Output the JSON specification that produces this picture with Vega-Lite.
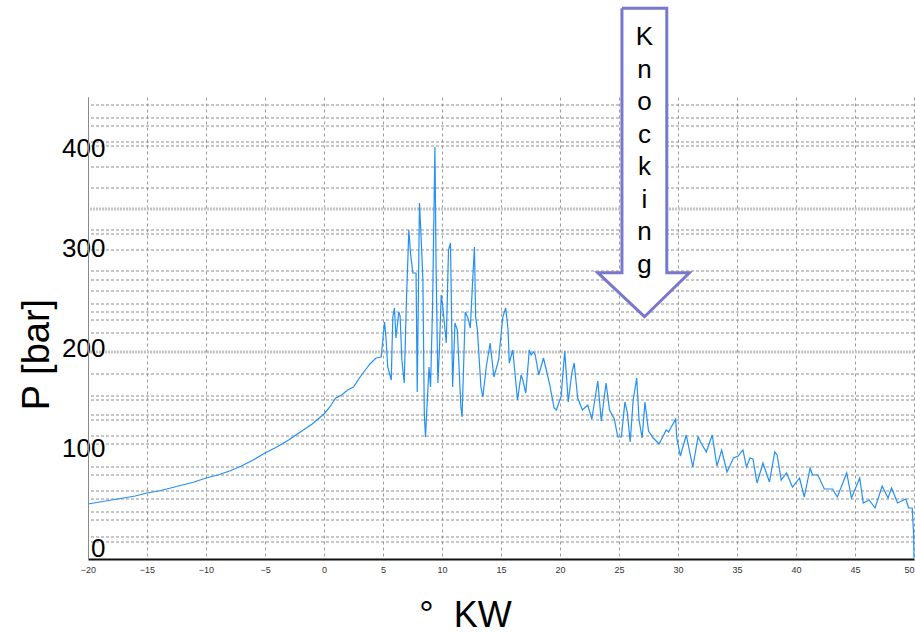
{
  "$schema": "https://vega.github.io/schema/vega-lite/v6.json",
  "width": 826,
  "height": 462,
  "autosize": {"type": "none"},
  "padding": {"left": 88, "top": 97, "right": 1, "bottom": 75},
  "background": "white",
  "config": {"view": {"stroke": null}, "font": "Liberation Sans"},
  "datasets": {
    "curve": [
      {"x": -20, "y": 44}, {"x": -19, "y": 46}, {"x": -18, "y": 48}, {"x": -17, "y": 50}, {"x": -16, "y": 52},
      {"x": -15, "y": 55}, {"x": -14, "y": 57}, {"x": -13, "y": 60}, {"x": -12, "y": 63}, {"x": -11, "y": 66},
      {"x": -10, "y": 70}, {"x": -9, "y": 73}, {"x": -8, "y": 77}, {"x": -7, "y": 82}, {"x": -6, "y": 88},
      {"x": -5, "y": 95}, {"x": -4, "y": 101}, {"x": -3, "y": 108}, {"x": -2, "y": 116}, {"x": -1, "y": 124},
      {"x": 0, "y": 134}, {"x": 0.5, "y": 141}, {"x": 1, "y": 150}, {"x": 1.5, "y": 153}, {"x": 2, "y": 158},
      {"x": 2.5, "y": 161}, {"x": 3, "y": 170}, {"x": 3.5, "y": 178}, {"x": 3.9, "y": 184}, {"x": 4.4, "y": 190},
      {"x": 4.85, "y": 191}, {"x": 5.13, "y": 226}, {"x": 5.27, "y": 208}, {"x": 5.4, "y": 181}, {"x": 5.7, "y": 168},
      {"x": 5.83, "y": 231}, {"x": 5.97, "y": 240}, {"x": 6.1, "y": 210}, {"x": 6.34, "y": 236}, {"x": 6.45, "y": 232},
      {"x": 6.6, "y": 188}, {"x": 6.8, "y": 165}, {"x": 6.97, "y": 241}, {"x": 7.19, "y": 318}, {"x": 7.33, "y": 295},
      {"x": 7.53, "y": 275}, {"x": 7.8, "y": 275}, {"x": 7.9, "y": 156}, {"x": 8.09, "y": 345}, {"x": 8.24, "y": 308},
      {"x": 8.38, "y": 268}, {"x": 8.5, "y": 135}, {"x": 8.6, "y": 111}, {"x": 8.9, "y": 181}, {"x": 9.03, "y": 161},
      {"x": 9.2, "y": 241}, {"x": 9.4, "y": 401}, {"x": 9.5, "y": 281}, {"x": 9.65, "y": 165}, {"x": 9.79, "y": 201},
      {"x": 9.93, "y": 253}, {"x": 10.07, "y": 241}, {"x": 10.36, "y": 205}, {"x": 10.55, "y": 298}, {"x": 10.72, "y": 305},
      {"x": 10.9, "y": 161}, {"x": 11.1, "y": 225}, {"x": 11.3, "y": 218}, {"x": 11.6, "y": 141}, {"x": 11.7, "y": 131},
      {"x": 11.97, "y": 236}, {"x": 12.2, "y": 230}, {"x": 12.4, "y": 220}, {"x": 12.6, "y": 268}, {"x": 12.75, "y": 301},
      {"x": 12.85, "y": 231}, {"x": 13.0, "y": 218}, {"x": 13.3, "y": 161}, {"x": 13.46, "y": 151}, {"x": 13.75, "y": 181},
      {"x": 14.08, "y": 205}, {"x": 14.4, "y": 171}, {"x": 14.8, "y": 188}, {"x": 15.15, "y": 231}, {"x": 15.4, "y": 240},
      {"x": 15.6, "y": 218}, {"x": 15.7, "y": 185}, {"x": 16.0, "y": 198}, {"x": 16.4, "y": 148}, {"x": 16.7, "y": 173},
      {"x": 16.85, "y": 168}, {"x": 17.1, "y": 155}, {"x": 17.4, "y": 198}, {"x": 17.55, "y": 193}, {"x": 17.75, "y": 196},
      {"x": 17.9, "y": 193}, {"x": 18.2, "y": 173}, {"x": 18.6, "y": 190}, {"x": 19.1, "y": 165}, {"x": 19.5, "y": 140},
      {"x": 19.7, "y": 138}, {"x": 20.1, "y": 152}, {"x": 20.4, "y": 197}, {"x": 20.7, "y": 146}, {"x": 21.0, "y": 175},
      {"x": 21.2, "y": 185}, {"x": 21.5, "y": 150}, {"x": 21.9, "y": 138}, {"x": 22.35, "y": 143}, {"x": 22.7, "y": 129},
      {"x": 23.2, "y": 167}, {"x": 23.5, "y": 127}, {"x": 23.9, "y": 165}, {"x": 24.2, "y": 138}, {"x": 24.6, "y": 129},
      {"x": 24.9, "y": 111}, {"x": 25.2, "y": 111}, {"x": 25.5, "y": 146}, {"x": 25.7, "y": 136}, {"x": 25.95, "y": 106},
      {"x": 26.2, "y": 148}, {"x": 26.5, "y": 170}, {"x": 26.7, "y": 128}, {"x": 26.96, "y": 110}, {"x": 27.2, "y": 146},
      {"x": 27.5, "y": 117}, {"x": 27.9, "y": 110}, {"x": 28.4, "y": 104}, {"x": 29.0, "y": 118}, {"x": 29.2, "y": 116},
      {"x": 29.8, "y": 129}, {"x": 29.9, "y": 110}, {"x": 30.2, "y": 92}, {"x": 30.7, "y": 113}, {"x": 31.25, "y": 81},
      {"x": 31.7, "y": 111}, {"x": 32.0, "y": 104}, {"x": 32.4, "y": 96}, {"x": 32.9, "y": 113}, {"x": 33.3, "y": 82},
      {"x": 33.7, "y": 98}, {"x": 34.15, "y": 76}, {"x": 34.7, "y": 90}, {"x": 35.1, "y": 92}, {"x": 35.5, "y": 98},
      {"x": 35.8, "y": 81}, {"x": 36.1, "y": 90}, {"x": 36.35, "y": 89}, {"x": 36.7, "y": 65}, {"x": 37.2, "y": 85},
      {"x": 37.75, "y": 66}, {"x": 38.2, "y": 96}, {"x": 38.4, "y": 93}, {"x": 38.75, "y": 68}, {"x": 39.2, "y": 75},
      {"x": 39.7, "y": 61}, {"x": 40.3, "y": 70}, {"x": 40.7, "y": 51}, {"x": 41.2, "y": 80}, {"x": 41.4, "y": 73},
      {"x": 41.85, "y": 73}, {"x": 42.4, "y": 59}, {"x": 43.1, "y": 59}, {"x": 43.5, "y": 51}, {"x": 44.3, "y": 75},
      {"x": 44.7, "y": 50}, {"x": 45.4, "y": 70}, {"x": 45.7, "y": 45}, {"x": 46.2, "y": 48}, {"x": 46.7, "y": 40},
      {"x": 47.3, "y": 62}, {"x": 47.8, "y": 50}, {"x": 48.1, "y": 60}, {"x": 48.6, "y": 45}, {"x": 49.3, "y": 49},
      {"x": 49.55, "y": 40}, {"x": 49.85, "y": 40}, {"x": 49.97, "y": 13}, {"x": 50, "y": -10}
    ],
    "hgrid": [
      {"y": 443}, {"y": 430}, {"y": 422}, {"y": 406}, {"y": 402}, {"y": 381}, {"y": 360}, {"y": 318}, {"y": 314},
      {"y": 298}, {"y": 277}, {"y": 268}, {"y": 257}, {"y": 244}, {"y": 236}, {"y": 228}, {"y": 215}, {"y": 174},
      {"y": 152}, {"y": 148}, {"y": 133}, {"y": 128}, {"y": 112}, {"y": 104}, {"y": 81}, {"y": 73}, {"y": 57},
      {"y": 49}, {"y": 36}, {"y": 28}, {"y": 11}, {"y": 6}
    ],
    "hgrid2": [{"y": 339}, {"y": 196}],
    "body": [{"x": 25.25, "x2": 29.05, "y": 275.3, "y2": 539.7}],
    "head": [
      {"x": 23.2, "y": 275.3, "y2": 275.3},
      {"x": 27.16, "y": 231.3, "y2": 275.3},
      {"x": 30.97, "y": 275.3, "y2": 275.3}
    ],
    "outline": [
      {"i": 0, "x": 25.25, "y": 539.7}, {"i": 1, "x": 29.05, "y": 539.7}, {"i": 2, "x": 29.05, "y": 275.3},
      {"i": 3, "x": 30.97, "y": 275.3}, {"i": 4, "x": 27.16, "y": 231.3}, {"i": 5, "x": 23.2, "y": 275.3},
      {"i": 6, "x": 25.25, "y": 275.3}, {"i": 7, "x": 25.25, "y": 539.7}
    ],
    "label": [{"x": 27.16, "y": 503, "text": "K\nn\no\nc\nk\ni\nn\ng"}]
  },
  "encoding": {
    "x": {
      "field": "x", "type": "quantitative",
      "scale": {"domain": [-20, 50], "nice": false, "zero": false},
      "axis": {
        "values": [-20, -15, -10, -5, 0, 5, 10, 15, 20, 25, 30, 35, 40, 45, 50],
        "title": "°\u00a0\u00a0KW",
        "titleFont": "Liberation Sans", "titleFontSize": 36, "titleFontWeight": "normal", "titleColor": "#000",
        "titleX": 377, "titleY": 67, "titleBaseline": "alphabetic", "titleAlign": "center",
        "labelFont": "Liberation Sans", "labelFontSize": 9, "labelColor": "#333",
        "labelAlign": {"expr": "datum.value == 50 ? 'right' : 'center'"},
        "labelFlush": false, "labelOverlap": false, "labelBound": false, "labelPadding": 6,
        "ticks": false, "grid": true, "gridColor": "#9a9a9a", "gridDash": [3, 3], "gridWidth": 1,
        "domainColor": "#111", "domainWidth": 2
      }
    },
    "y": {
      "field": "y", "type": "quantitative",
      "scale": {"domain": [-11, 451], "nice": false, "zero": false},
      "axis": {
        "values": [0, 100, 200, 300, 400],
        "title": "P [bar]",
        "titleFont": "Liberation Sans", "titleFontSize": 38, "titleFontWeight": "normal", "titleColor": "#000",
        "titleX": -40, "titleY": 257, "titleAngle": -90, "titleBaseline": "alphabetic", "titleAlign": "center",
        "labelFont": "Liberation Sans", "labelFontSize": 26, "labelColor": "#000",
        "labelPadding": -17, "ticks": false, "grid": false, "labelOverlap": false,
        "domainColor": "#8a8a8a", "domainWidth": 1, "zindex": 1
      }
    }
  },
  "layer": [
    {
      "data": {"name": "hgrid"},
      "mark": {"type": "rule", "color": "#8f8f8f", "strokeWidth": 1, "strokeDash": [3, 2]},
      "encoding": {"x": null}
    },
    {
      "data": {"name": "hgrid2"},
      "mark": {"type": "rule", "color": "#c4c4c4", "strokeWidth": 3, "strokeDash": [2, 1]},
      "encoding": {"x": null}
    },
    {
      "data": {"name": "curve"},
      "mark": {"type": "line", "color": "#2390f5", "strokeWidth": 1.2},
      "encoding": {}
    },
    {
      "data": {"name": "body"},
      "mark": {"type": "rect", "fill": "white"},
      "encoding": {
        "x2": {"field": "x2"},
        "y2": {"field": "y2"}
      }
    },
    {
      "data": {"name": "head"},
      "mark": {"type": "area", "fill": "white", "orient": "vertical"},
      "encoding": {
        "y2": {"field": "y2"}
      }
    },
    {
      "data": {"name": "outline"},
      "mark": {"type": "line", "color": "#7878cc", "strokeWidth": 3, "strokeJoin": "miter"},
      "encoding": {
        "order": {"field": "i", "type": "quantitative"}
      }
    },
    {
      "data": {"name": "label"},
      "mark": {"type": "text", "font": "Liberation Sans", "fontSize": 26, "color": "#000", "lineBreak": "\n", "lineHeight": 32.5, "align": "center", "baseline": "alphabetic"},
      "encoding": {
        "text": {"field": "text", "type": "nominal"}
      }
    }
  ]
}
